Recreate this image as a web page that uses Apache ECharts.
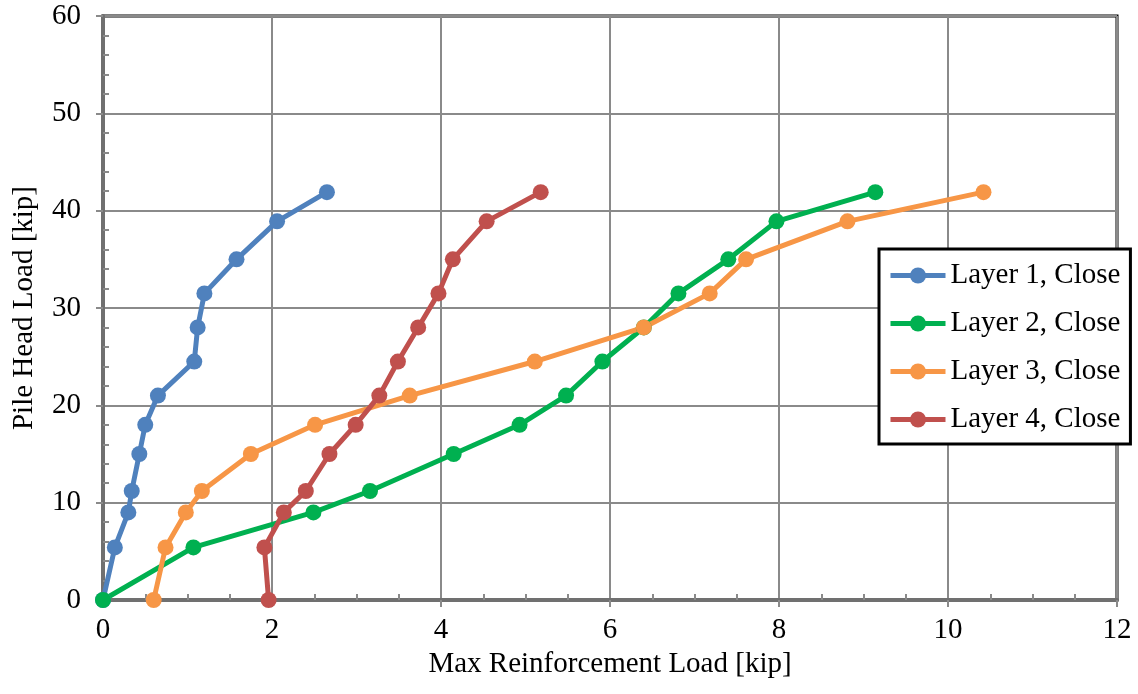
<!DOCTYPE html>
<html>
<head>
<meta charset="utf-8">
<script src="https://cdn.jsdelivr.net/npm/echarts@6/dist/echarts.min.js"></script>
<style>
  html, body { margin: 0; padding: 0; background: #fff; }
  #chart { width: 1138px; height: 694px; }
</style>
</head>
<body>
<div id="chart"></div>
<script>
// pile head load levels (y), shared by every layer
const headLoad = [0, 5.4, 9, 11.2, 15, 18, 21, 24.5, 28, 31.5, 35, 38.9, 41.9];
// max reinforcement load (x) for each layer
const layer1 = [0, 0.14, 0.3, 0.34, 0.43, 0.5, 0.65, 1.08, 1.12, 1.2, 1.58, 2.06, 2.65];
const layer2 = [0, 1.07, 2.49, 3.16, 4.15, 4.93, 5.48, 5.91, 6.4, 6.81, 7.4, 7.97, 9.14];
const layer3 = [0.6, 0.74, 0.98, 1.17, 1.75, 2.51, 3.63, 5.11, 6.4, 7.18, 7.61, 8.81, 10.42];
const layer4 = [1.96, 1.91, 2.14, 2.4, 2.68, 2.99, 3.27, 3.49, 3.73, 3.97, 4.14, 4.54, 5.18];
const seriesNames = ['Layer 1, Close', 'Layer 2, Close', 'Layer 3, Close', 'Layer 4, Close'];
const seriesColors = ['#4F81BD', '#00B050', '#F79646', '#C0504D'];

const font = 'Liberation Serif';
const gridGray = '#8a8a8a';
const axisGray = '#707070';

function pairs(xs) {
  return xs.map(function (x, i) { return [x, headLoad[i]]; });
}

const chart = echarts.init(document.getElementById('chart'));

const series = [layer1, layer2, layer3, layer4].map(function (xs, i) {
  return {
    name: seriesNames[i],
    type: 'line',
    xAxisIndex: 0,
    yAxisIndex: 0,
    data: pairs(xs),
    symbol: 'circle',
    symbolSize: 16,
    color: seriesColors[i],
    lineStyle: { width: 5, color: seriesColors[i] },
    itemStyle: { color: seriesColors[i] }
  };
});

const option = {
  animation: false,
  backgroundColor: '#fff',
  textStyle: { fontFamily: font, color: '#000' },
  grid: {
    left: 103, right: 21, top: 16, bottom: 94,
    show: true,
    borderColor: '#000',
    borderWidth: 3,
    backgroundColor: '#fff'
  },
  legend: {
    orient: 'vertical',
    left: 879,
    top: 249,
    padding: [12, 10, 10, 9],
    itemGap: 19,
    itemWidth: 55,
    itemHeight: 20,
    borderColor: '#000',
    borderWidth: 3,
    backgroundColor: '#fff',
    lineStyle: { width: 5 },
    textStyle: { fontFamily: font, fontSize: 29, color: '#000' },
    data: seriesNames
  },
  xAxis: [
    {
      type: 'value',
      min: 0, max: 12, interval: 2,
      position: 'bottom',
      name: 'Max Reinforcement Load [kip]',
      nameLocation: 'middle',
      nameGap: 49,
      nameTextStyle: { fontFamily: font, fontSize: 29, color: '#000' },
      axisLine: { show: true, onZero: false, lineStyle: { color: axisGray, width: 4 } },
      axisTick: { show: true, inside: false, length: 7, lineStyle: { color: gridGray, width: 2 } },
      axisLabel: { margin: 16, fontFamily: font, fontSize: 29, color: '#000' },
      splitLine: { show: true, lineStyle: { color: gridGray, width: 2 } }
    },
    {
      // minor ticks only, drawn inward
      type: 'value',
      min: 0, max: 12, interval: 2,
      position: 'bottom',
      axisLine: { show: false },
      axisTick: { show: false, inside: true },
      minorTick: { show: true, splitNumber: 4, length: 6, lineStyle: { color: gridGray, width: 2 } },
      axisLabel: { show: false },
      splitLine: { show: false }
    }
  ],
  yAxis: [
    {
      type: 'value',
      min: 0, max: 60, interval: 10,
      position: 'left',
      name: 'Pile Head Load [kip]',
      nameLocation: 'middle',
      nameGap: 64,
      nameRotate: 90,
      nameTextStyle: { fontFamily: font, fontSize: 29, color: '#000' },
      axisLine: { show: true, onZero: false, lineStyle: { color: axisGray, width: 4 } },
      axisTick: { show: true, inside: false, length: 7, lineStyle: { color: gridGray, width: 2 } },
      axisLabel: { margin: 22, fontFamily: font, fontSize: 29, color: '#000' },
      splitLine: { show: true, lineStyle: { color: gridGray, width: 2 } }
    },
    {
      type: 'value',
      min: 0, max: 60, interval: 10,
      position: 'left',
      axisLine: { show: false },
      axisTick: { show: false, inside: true },
      minorTick: { show: true, splitNumber: 5, length: 6, lineStyle: { color: gridGray, width: 2 } },
      axisLabel: { show: false },
      splitLine: { show: false }
    }
  ],
  series: series
};

chart.setOption(option);
</script>
</body>
</html>
